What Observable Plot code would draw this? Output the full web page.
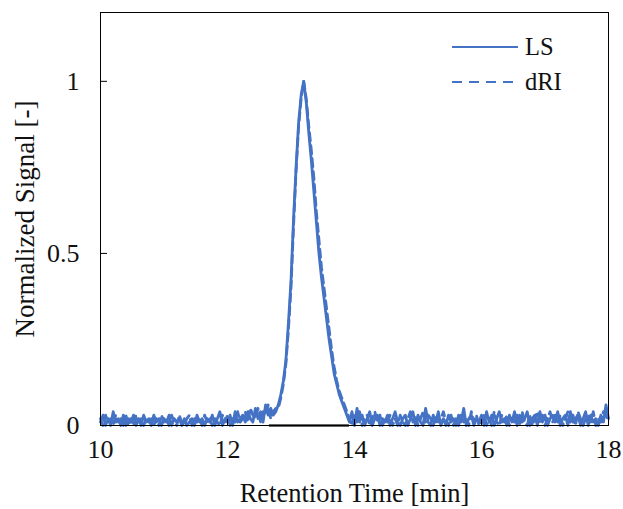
<!DOCTYPE html>
<html>
<head>
<meta charset="utf-8">
<script src="https://cdn.jsdelivr.net/npm/d3@7"></script>
<script src="https://cdn.jsdelivr.net/npm/@observablehq/plot@0.6"></script>
<style>
  body { margin: 0; background: #fff; }
  #chart { position: relative; width: 623px; height: 509px; }
  #chart svg text { font-family: "Liberation Serif", "Times New Roman", serif !important; font-size: 26px !important; fill: #111; }
  #chart g[aria-label="y-axis label"] text { font-size: 27px !important; }
  #chart g[aria-label="x-axis label"] text { font-size: 26.5px !important; }
  .key { position: absolute; display: flex; align-items: center; color: #111; line-height: 29px;
         font-family: "Liberation Serif", "Times New Roman", serif; font-size: 24.5px; }
  .key svg { margin-right: 6px; }
</style>
</head>
<body>
<div id="chart"></div>
<script>
// Chromatogram sampled every 0.04 min from 10 min
const startTime = 10;
const sampleInterval = 0.04;

// Light scattering detector, normalized
const lsSignal = [
  .01,.03,.00,.02,.00,.04,.01,.02,.00,.03,
  .00,.02,.01,.03,.00,.02,.00,.03,.01,.02,
  .00,.03,.01,.02,.00,.02,.01,.03,.00,.02,
  .01,.02,.00,.02,.00,.01,.02,.00,.03,.01,
  .02,.00,.02,.01,.03,.00,.02,.04,.00,.02,
  .01,.03,.00,.04,.01,.02,.03,.01,.04,.02,
  .01,.05,.02,.04,.01,.06,.03,.05,.03,.04,
  .06,.09,.13,.19,.30,.42,.60,.75,.88,.96,
  1.00,.94,.85,.77,.68,.59,.50,.43,.37,.31,
  .25,.20,.15,.12,.09,.07,.05,.03,.01,.04,
  .00,.05,.01,.03,.00,.02,.04,.00,.02,.03,
  .00,.02,.01,.03,.00,.02,.04,.01,.00,.02,
  .03,.00,.02,.04,.00,.03,.01,.00,.05,.01,
  .00,.03,.01,.04,.00,.02,.00,.03,.01,.02,
  .00,.03,.01,.05,.00,.02,.03,.00,.02,.01,
  .03,.00,.04,.01,.03,.00,.02,.04,.01,.02,
  .00,.03,.01,.04,.00,.03,.01,.02,.04,.00,
  .02,.03,.00,.04,.01,.03,.00,.02,.03,.01,
  .04,.00,.02,.03,.00,.04,.01,.02,.03,.00,
  .02,.04,.00,.03,.01,.02,.00,.03,.01,.06,
  .02
];

// Differential refractive index detector, normalized
const driSignal = [
  .02,.00,.03,.01,.02,.00,.03,.01,.02,.00,
  .03,.00,.02,.00,.03,.01,.02,.00,.02,.01,
  .02,.00,.02,.00,.03,.01,.02,.00,.03,.01,
  .00,.03,.01,.00,.02,.03,.00,.02,.01,.02,
  .00,.03,.01,.02,.00,.02,.01,.00,.03,.01,
  .03,.00,.02,.01,.04,.01,.02,.04,.01,.05,
  .03,.02,.05,.01,.04,.03,.06,.02,.04,.05,
  .05,.08,.12,.18,.28,.40,.58,.74,.87,.95,
  1.00,.95,.87,.80,.72,.62,.54,.46,.40,.34,
  .28,.22,.17,.13,.10,.08,.06,.04,.02,.00,
  .03,.01,.04,.00,.02,.03,.00,.02,.04,.01,
  .03,.00,.02,.01,.03,.00,.02,.00,.03,.01,
  .00,.02,.04,.01,.03,.00,.02,.04,.01,.03,
  .02,.00,.03,.01,.02,.04,.01,.00,.03,.00,
  .02,.00,.03,.01,.02,.00,.04,.01,.03,.00,
  .01,.03,.00,.02,.00,.04,.01,.00,.03,.01,
  .03,.00,.02,.01,.03,.00,.04,.01,.00,.03,
  .00,.02,.04,.01,.03,.00,.02,.04,.01,.03,
  .01,.03,.00,.02,.04,.01,.03,.00,.04,.02,
  .00,.02,.03,.01,.04,.00,.02,.01,.04,.03,
  .01
];

// Peak integration baseline (min)
const baselineStart = 12.66;
const baselineEnd = 13.92;

const xTicks = [10, 12, 14, 16, 18];
const yTicks = [0, 0.5, 1];

const seriesNames = ["LS", "dRI"];
const blue = "#4472C4";
const dashes = [null, "8,5"];

const rows = lsSignal.map((v, i) => ({
  time: startTime + i * sampleInterval,
  ls: v,
  dri: driSignal[i]
}));

const marginLeft = 100, marginRight = 15, marginTop = 12, marginBottom = 84;
const W = 623, H = 509;
const frameW = W - marginLeft - marginRight;
const frameH = H - marginTop - marginBottom;

const chart = Plot.plot({
  width: W,
  height: H,
  marginLeft, marginRight, marginTop, marginBottom,
  style: { fontFamily: "Liberation Serif", fontSize: "26px", color: "#111", background: "#fff", overflow: "visible" },
  x: { domain: [10, 18] },
  y: { domain: [0, 1.2] },
  marks: [
    Plot.ruleY([0], { x1: baselineStart, x2: baselineEnd, stroke: "#333", strokeWidth: 2.5 }),
    Plot.line(rows, { x: "time", y: "ls", stroke: blue, strokeWidth: 2.8 }),
    Plot.line(rows, { x: "time", y: "dri", stroke: blue, strokeWidth: 2.8, strokeDasharray: dashes[1] }),
    Plot.tickX(xTicks, { x: d => d, insetTop: frameH - 6, stroke: "#000" }),
    Plot.tickY(yTicks, { y: d => d, insetRight: frameW - 7, stroke: "#000" }),
    Plot.frame({ stroke: "#000", strokeWidth: 1 }),
    Plot.axisX(xTicks, {
      tickSize: 0, tickPadding: 14,
      label: "Retention Time [min]", labelAnchor: "center", labelArrow: "none", labelOffset: 76
    }),
    Plot.axisY(yTicks, {
      tickSize: 0, tickPadding: 21, tickFormat: d => String(d),
      label: "Normalized Signal [-]", labelAnchor: "center", labelArrow: "none", labelOffset: 86
    })
  ]
});

const host = document.getElementById("chart");
host.appendChild(chart);

// Legend keys in the upper right of the frame
seriesNames.forEach((name, i) => {
  const key = document.createElement("div");
  key.className = "key";
  key.style.left = "451px";
  key.style.top = (32 + i * 35) + "px";
  key.innerHTML =
    `<svg width="68" height="22"><line x1="1" x2="67" y1="11" y2="11" stroke="${blue}" stroke-width="2"` +
    (dashes[i] ? ` stroke-dasharray="10,7"` : "") + `></line></svg><span>${name}</span>`;
  host.appendChild(key);
});
</script>
</body>
</html>
